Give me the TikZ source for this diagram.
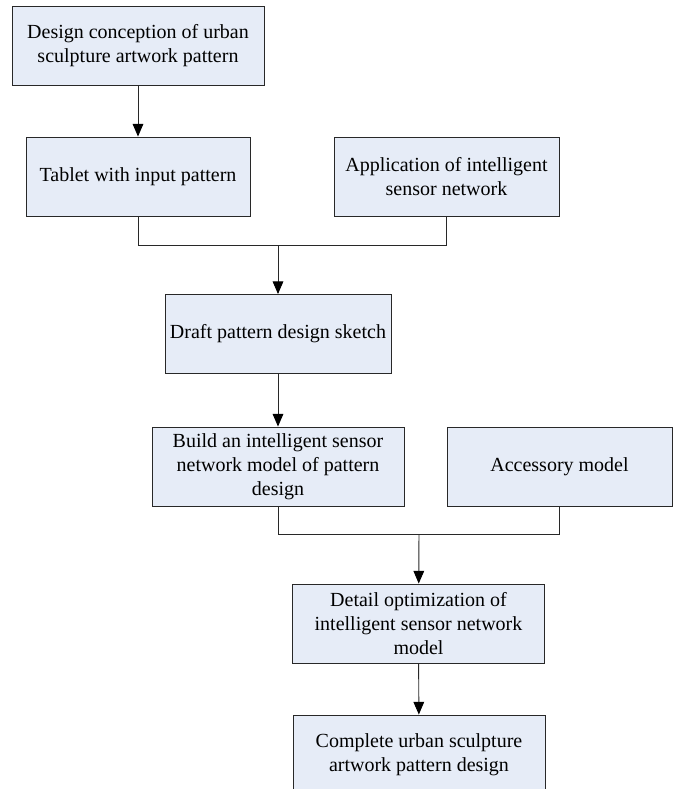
\documentclass[tikz,border=0pt]{standalone}
\usepackage{fontspec}
\setmainfont{Liberation Serif}
\newfontfamily\boxfont{Liberation Serif}
\usetikzlibrary{arrows.meta}
\definecolor{boxfill}{RGB}{230,236,247}
\definecolor{edgegray}{RGB}{40,40,40}

\begin{document}
\begin{tikzpicture}[-,>={Triangle[length=9.5pt,width=8pt,color=black]},x=0.75pt,y=-0.75pt,
    box/.style={rectangle,draw=edgegray,line width=0.7pt,fill=boxfill,align=center,inner sep=0pt,minimum height=59.25pt,font=\boxfont\fontsize{15}{18}\selectfont},
    wide box/.style={box,minimum width=189pt},
    narrow box/.style={box,minimum width=168.75pt},
    link/.style={draw=edgegray,line width=0.7pt}]

            \useasboundingbox (0,0) rectangle (692,789);

            \node[wide box] (1) at (138,45.5) {Design conception of urban\\sculpture artwork pattern};
            \node[box, minimum width=168pt] (2) at (138,176.5) {Tablet with input pattern};
            \node[narrow box] (3) at (446.5,177) {Application of intelligent\\sensor network};
            \node[box, minimum width=169.5pt] (4) at (278,334) {Draft pattern design sketch};
            \node[wide box] (5) at (278,466.5) {Build an intelligent sensor\\network model of pattern\\design};
            \node[narrow box] (6) at (559.5,466.5) {Accessory model};
            \node[wide box] (7) at (418.5,623.5) {Detail optimization of\\intelligent sensor network\\model};
            \node[wide box] (8) at (419,754.5) {Complete urban sculpture\\artwork pattern design};

            \coordinate (j1) at (278,245);
            \coordinate (j2) at (419,534);

            \draw[link,->] (1) to (2);
            \draw[link] (2) |- (j1);
            \draw[link] (3) |- (j1);
            \draw[link,->] (j1) to (4);
            \draw[link,->] (4) to (5);
            \draw[link] (5) |- (j2);
            \draw[link] (6) |- (j2);
            \draw[link,->] (j2) to (7);
            \draw[link,->] (7) to (8);

        \end{tikzpicture}
\end{document}
